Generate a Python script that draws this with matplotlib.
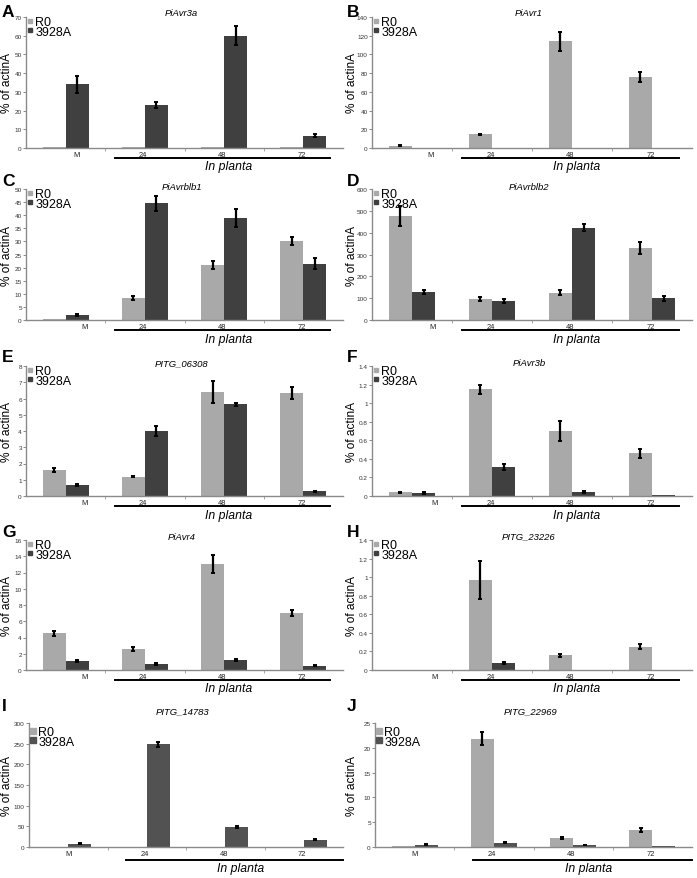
import matplotlib
matplotlib.use('Agg')
import matplotlib.pyplot as plt
from matplotlib.lines import Line2D
from matplotlib.ticker import FuncFormatter, MultipleLocator
import numpy as np

plt.rcParams['font.family'] = ['Liberation Sans', 'DejaVu Sans']

# categories and series
cats = ['M', '24', '48', '72']
series = ['R0', '3928A']
c_r0 = '#a9a9a9'
c_k = '#404040'

# A  PiAvr3a
r0_A = [0.3, 0.3, 0.3, 0.3]
r0_A_err = [0, 0, 0, 0]
k_A = [34, 23, 60, 6.5]
k_A_err = [4.5, 1.5, 5, 0.8]

# B  PiAvr1
r0_B = [2.5, 14.5, 114, 76]
r0_B_err = [0.5, 0.8, 10, 5]
k_B = [0, 0.3, 0, 0]
k_B_err = [0, 0, 0, 0]

# C  PiAvrblb1
r0_C = [0.2, 8.5, 21, 30]
r0_C_err = [0, 0.8, 1.5, 1.5]
k_C = [2, 44.5, 39, 21.5]
k_C_err = [0.4, 3, 3.5, 2]

# D  PiAvrblb2
r0_D = [475, 97, 125, 330]
r0_D_err = [45, 10, 12, 28]
k_D = [128, 86, 423, 100]
k_D_err = [10, 8, 15, 12]

# E  PITG_06308
r0_E = [1.6, 1.2, 6.4, 6.35]
r0_E_err = [0.15, 0.03, 0.65, 0.35]
k_E = [0.68, 4.0, 5.65, 0.28]
k_E_err = [0.05, 0.3, 0.1, 0.04]

# F  PiAvr3b
r0_F = [0.04, 1.15, 0.7, 0.46]
r0_F_err = [0.005, 0.05, 0.11, 0.05]
k_F = [0.03, 0.31, 0.045, 0.01]
k_F_err = [0.01, 0.03, 0.008, 0]

# G  PiAvr4
r0_G = [4.5, 2.55, 13, 7]
r0_G_err = [0.35, 0.25, 1.1, 0.35]
k_G = [1.1, 0.75, 1.2, 0.55]
k_G_err = [0.1, 0.1, 0.15, 0.1]

# H  PITG_23226
r0_H = [0.003, 0.97, 0.16, 0.25]
r0_H_err = [0, 0.2, 0.015, 0.025]
k_H = [0.002, 0.08, 0.005, 0.003]
k_H_err = [0, 0.01, 0, 0]

# I  PITG_14783
r0_I = [0.5, 0.5, 0.5, 0.5]
r0_I_err = [0, 0, 0, 0]
k_I = [8, 248, 48, 18]
k_I_err = [1, 7, 2, 1.5]

# J  PITG_22969
r0_J = [0.15, 21.8, 1.8, 3.4]
r0_J_err = [0, 1.3, 0.2, 0.35]
k_J = [0.5, 0.9, 0.45, 0.2]
k_J_err = [0.05, 0.08, 0.05, 0]

letters = ['A', 'B', 'C', 'D', 'E', 'F', 'G', 'H', 'I', 'J']
genes = ['PiAvr3a', 'PiAvr1', 'PiAvrblb1', 'PiAvrblb2', 'PITG_06308',
         'PiAvr3b', 'PiAvr4', 'PITG_23226', 'PITG_14783', 'PITG_22969']
ymax = [70, 140, 50, 600, 8, 1.4, 16, 1.4, 300, 25]
ystep = [10, 20, 5, 100, 1, 0.2, 2, 0.2, 50, 5]
m_shift = [0.14, 0.23, 0.24, 0.25, 0.24, 0.28, 0.24, 0.28, 0, 0]

r0_all = [r0_A, r0_B, r0_C, r0_D, r0_E, r0_F, r0_G, r0_H, r0_I, r0_J]
r0_err_all = [r0_A_err, r0_B_err, r0_C_err, r0_D_err, r0_E_err,
              r0_F_err, r0_G_err, r0_H_err, r0_I_err, r0_J_err]
k_all = [k_A, k_B, k_C, k_D, k_E, k_F, k_G, k_H, k_I, k_J]
k_err_all = [k_A_err, k_B_err, k_C_err, k_D_err, k_E_err,
             k_F_err, k_G_err, k_H_err, k_I_err, k_J_err]

W, H = 697, 879
fig = plt.figure(figsize=(W / 100, H / 100), dpi=100)

# pixel layout
col_l = [26, 372]
col_r = [343, 692]
ylab_x = [13, 358]
row_t = [18, 190, 367, 541, 724]
row_b = [149, 321, 497, 671, 848]
title_y = [13, 187, 364, 537, 712]
letter_y = [5, 174, 350, 525, 699]


def fx(x):
    return x / W


def fy(y):
    return 1 - y / H


x = np.arange(len(cats))
w = 0.29

for i in range(10):
    row, col = divmod(i, 2)
    l, r = col_l[col], col_r[col]
    if row == 4:
        l += 3
    t, b = row_t[row], row_b[row]
    ah = b - t
    ax = fig.add_axes([fx(l), fy(b), (r - l) / W, ah / H])
    dark = c_k if i < 8 else '#525252'

    ax.bar(x - w / 2, r0_all[i], width=w, color=c_r0, zorder=2)
    ax.bar(x + w / 2, k_all[i], width=w, color=dark, zorder=2)
    for xs, ys, es in [(x - w / 2, r0_all[i], r0_err_all[i]),
                       (x + w / 2, k_all[i], k_err_all[i])]:
        keep = [j for j in range(4) if es[j] > 0]
        if keep:
            ax.errorbar(xs[keep], np.array(ys)[keep], yerr=np.array(es)[keep],
                        fmt='none', ecolor='black', elinewidth=1.6,
                        capsize=1.2, capthick=1.4, zorder=3)

    ax.set_xlim(-0.5, 3.5)
    ax.set_ylim(0, ymax[i])
    ax.yaxis.set_major_locator(MultipleLocator(ystep[i]))
    ax.yaxis.set_major_formatter(FuncFormatter(lambda v, p: f'{round(v, 6):g}'))
    ax.tick_params(axis='y', labelsize=4.6, length=2, width=0.6,
                   colors='#777777', labelcolor='#333333', pad=1)
    ax.set_xticks([m_shift[i], 1 - 0.02, 2 - 0.02, 3 - 0.02])
    ax.set_xticklabels(cats)
    ax.set_xticks([0.5, 1.5, 2.5], minor=True)
    ax.tick_params(axis='x', which='major', length=0, labelsize=5.4,
                   labelcolor='#222222', pad=2)
    ax.tick_params(axis='x', which='minor', length=2, width=0.6, colors='#999999')
    for s in ['top', 'right']:
        ax.spines[s].set_visible(False)
    for s in ['left', 'bottom']:
        ax.spines[s].set_color('#8a8a8a')
        ax.spines[s].set_linewidth(1.0)
    ax.set_ylabel('% of actinA', fontsize=8.6)
    ax.yaxis.set_label_coords((ylab_x[col] - l) / (r - l), 0.5)

    # In planta bracket
    x0, x1 = (0.28, 0.96) if i < 8 else (0.31, 1.0)
    ly = -10 if i < 8 else -13
    ax.plot([x0, x1], [ly / ah, ly / ah], transform=ax.transAxes,
            color='black', lw=1.4, clip_on=False)
    ax.text((x0 + x1) / 2 + 0.02, (ly - 8.5) / ah, 'In planta',
            transform=ax.transAxes, ha='center', va='center',
            fontsize=8.8, style='italic')

    # legend
    ms = 2.4 if i < 8 else 4.2
    top_off = 2 if i < 8 else -2
    handles = [Line2D([], [], marker='s', ls='none', color=c_r0, markersize=ms),
               Line2D([], [], marker='s', ls='none', color=dark, markersize=ms)]
    ax.legend(handles, series, loc='upper left',
              bbox_to_anchor=(0.0, 1.0 + top_off / ah), frameon=False,
              fontsize=9, handlelength=0.4, handletextpad=0.25,
              labelspacing=-0.2, borderaxespad=0, borderpad=0.1)

    # title and panel letter
    fig.text(fx((l + r) / 2 - 3), fy(title_y[row]), genes[i],
             ha='center', va='center', fontsize=6.8, style='italic')
    fig.text(fx(2 if col == 0 else 347), fy(letter_y[row]), letters[i],
             ha='left', va='top', fontsize=12.5, fontweight='bold')

fig.savefig('out.png', dpi=100)
